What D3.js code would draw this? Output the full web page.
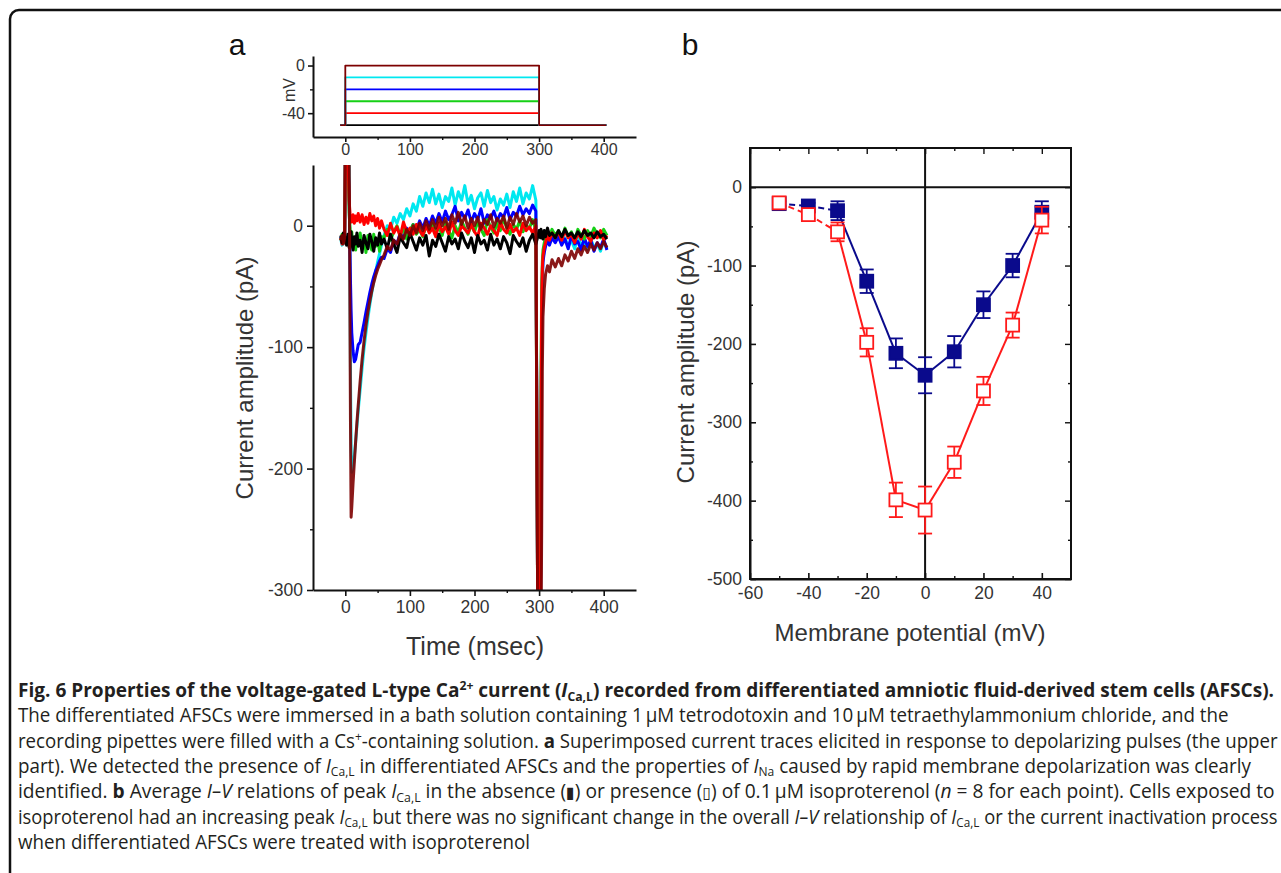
<!DOCTYPE html>
<meta charset="utf-8">
<style>
body { margin: 0; background: #fff; }
svg { font-family: "Liberation Sans", Arial, sans-serif; }
.cap { font-family: "Open Sans", sans-serif; font-size: 19.5px; fill: #231f20; }
</style>
<script src="https://d3js.org/d3.v7.min.js"></script>
<svg width="1281" height="873"></svg>
<script>
// ---- panel a: current traces (pA), sampled at timeMs ----
var timeMs = [-7, -5, -3, -1,
  0, 2, 4, 6, 8, 9, 10, 12, 14, 16, 18, 20,
  23, 26, 29, 32, 35, 38, 41, 44, 47, 50, 53, 56,
  60, 65, 70, 75, 80, 85, 90, 95, 100, 105, 110, 115, 120, 125, 130, 135, 140, 145, 150, 155,
  160, 165, 170, 175, 180, 185, 190, 195, 200, 205, 210, 215, 220, 225, 230, 235, 240, 245,
  250, 255, 260, 265, 270, 275, 280, 285, 290, 295,
  298, 300, 302, 303, 304, 305, 306, 308, 310, 313, 316, 320, 325,
  330, 335, 340, 345, 350, 355, 360, 365, 370, 375, 380, 385, 390, 395, 400, 405];

var traceBlack = [-8, -14, -6, -12,
  -10, -16, -7, -18, -11, -5, -14, -20, -9, -15, -6, -17,
  -12, -22, -8, -14, -19, -7, -13, -21, -10, -16, -6, -15,
  -11, -19, -7, -15, -22, -9, -14, -18, -6, -13, -20, -10, -16, -8, -25, -12, -17, -7, -14, -21,
  -9, -15, -11, -19, -6, -13, -18, -10, -22, -8, -15, -12, -20, -7, -16, -11, -19, -9,
  -14, -23, -8, -13, -17, -10, -21, -12, -7, -15,
  -9, -4, -10, -3, -8, -5, -11, -4, -9, -2, -8, -6, -10,
  -4, -9, -3, -8, -6, -10, -5, -9, -4, -8, -6, -10, -5, -9, -7, -11];

var traceRed = [-10, -15, -8, -13,
  60, 60, 60, 20, 5, 8, 3, 9, 2, 8, 4, 10,
  3, 9, 1, 7, 2, 10, 4, 8, 0, 6, -2, 4,
  -3, -8, 2, -6, -1, -9, 3, -5, -2, -7, 1, -4, -8, 0, -6, -2, -9, 2, -5, -1,
  -7, 3, -4, -8, 0, -3, -6, 1, -5, -9, 2, -2, -7, 0, -4, -8, 3, -3,
  -6, 1, -5, -2, -8, 2, -4, -1, -6, 0,
  -340, -340, -340, -150, -60, -35, -25, -18, -14, -8, -12, -6, -10,
  -5, -12, -4, -10, -7, -14, -6, -11, -3, -9, -13, -6, -10, -4, -12, -8];

var traceGreen = [-12, -7, -14, -9,
  60, 60, 60, 10, -8, -15, -5, -18, -10, -20, -8, -16,
  -6, -19, -10, -22, -8, -15, -20, -7, -17, -11, -21, -9,
  -10, -3, -12, -5, 0, -8, -2, -11, -4, 1, -7, -3, -9, 0, -5, 2, -6, -1,
  -8, 3, -4, -10, 0, -6, 4, -2, -7, 1, -5, 3, -3, -8, 5, -1, -6, 2,
  -4, 6, -2, -7, 1, -3, 4, -5, 0, -2, 5, -4,
  -340, -340, -340, -120, -50, -30, -20, -14, -10, -5, -9, -3, -8,
  -4, -10, -2, -9, -5, -12, -3, -8, -11, -4, -9, -2, -7, -10, -3, -8];

var traceBlue = [-9, -14, -7, -12,
  60, 60, 60, 20, -45, -70, -88, -103, -112, -110, -104, -98,
  -96, -88, -80, -71, -63, -55, -48, -42, -37, -33, -29, -26,
  -27, -19, -22, -12, -15, -6, -10, -2, -7, 1, -4, 4, -2, 6, 0, 8, 2, 10,
  3, 12, 5, 9, 16, 4, 11, 6, 13, 3, 10, 5, 14, 2, 9, 6, 12, 4,
  10, 7, 15, 5, 11, 8, 16, 9, 14, 10, 17, 12,
  -340, -340, -340, -200, -80, -45, -30, -22, -17, -12, -16, -10, -14,
  -9, -16, -11, -19, -8, -15, -13, -20, -10, -17, -12, -21, -14, -18, -11, -20];

var traceCyan = [-11, -16, -9, -14,
  60, 60, 60, 60, -120, -185, -203, -200, -190, -178, -165, -152,
  -135, -117, -101, -88, -76, -65, -55, -46, -38, -30, -23, -16,
  -8, 0, -3, 7, 2, 10, 5, 14, 8, 18, 12, 24, 16, 27, 19, 30, 18, 26,
  15, 24, 20, 31, 17, 28, 21, 33, 18, 25, 14, 23, 27, 16, 29, 19, 24, 13,
  22, 17, 26, 15, 28, 20, 31, 18, 27, 22, 33, 21,
  -340, -340, -340, -180, -70, -40, -28, -20, -14, -9, -13, -7, -12,
  -8, -14, -10, -17, -12, -19, -9, -16, -13, -20, -11, -18, -15, -21, -12, -19];

var traceMaroon = [-12, -8, -15, -10,
  60, 60, 60, 60, -160, -240, -232, -212, -195, -178, -162, -148,
  -128, -110, -95, -82, -71, -62, -54, -47, -41, -36, -32, -28,
  -24, -17, -20, -12, -15, -7, -11, -3, -8, 0, -6, 2, -4, 4, -3, 5, -2, 7,
  0, 6, -3, 9, 2, 11, 1, 8, -2, 6, 0, 7, -3, 5, 1, 9, -1, 6,
  2, 8, -2, 7, 1, 10, 3, 8, 0, 7, 2, 5,
  -340, -340, -340, -340, -250, -120, -75, -52, -40, -33, -38, -28, -34,
  -27, -33, -24, -29, -21, -27, -19, -24, -17, -22, -15, -20, -14, -19, -13, -18];

// ---- panel a inset: voltage protocol (mV) ----
var holdingMv = -50;
var stepMv = [-50, -40, -30, -20, -10, 0];
var stepTimes = [-8, 0, 300, 404];

// ---- panel b: I-V relation ----
var ivVoltage = [-50, -40, -30, -20, -10, 0, 10, 20, 30, 40];
var ivControl = [-21, -24, -30, -120, -212, -240, -210, -150, -100, -32];
var ivControlErr = [3, 4, 12, 15, 19, 23, 20, 17, 15, 14];
var ivIso = [-20, -35, -57, -198, -399, -412, -351, -260, -176, -42];
var ivIsoErr = [4, 5, 12, 18, 22, 30, 20, 18, 16, 17];

var colorByStep = {"-50": "#000000", "-40": "#ff0000", "-30": "#16d016", "-20": "#0000ff", "-10": "#00e8f0", "0": "#7d0000"};
var traces = [
  {mv: -10, values: traceCyan},
  {mv: -20, values: traceBlue},
  {mv: -30, values: traceGreen},
  {mv: -40, values: traceRed},
  {mv: -50, values: traceBlack},
  {mv: 0, values: traceMaroon}
];

var svg = d3.select("svg");
var ink = "#333";
var plain = d => String(d);   // hyphen-minus like the original figure

// frame around the figure (cropped at right and bottom)
svg.append("rect")
    .attr("x", 10).attr("y", 10).attr("width", 1300).attr("height", 900).attr("rx", 9)
    .attr("fill", "none").attr("stroke", "#111").attr("stroke-width", 2.5);

function styleAxis(g, size) {
  g.attr("font-family", null).attr("font-size", null);
  g.selectAll("text").attr("font-size", size || 17.5).attr("fill", ink);
  g.select(".domain").attr("stroke", "#111").attr("stroke-width", 2);
  g.selectAll(".tick line").attr("stroke", "#111").attr("stroke-width", 1.6);
}
function minorTicks(g) {
  g.select(".domain").remove();
  g.selectAll("text").remove();
  g.selectAll(".tick line").attr("stroke", "#111").attr("stroke-width", 1.4);
}

// ================= panel a =================
var xT = d3.scaleLinear().domain([-50, 450]).range([313, 636]);
var yI = d3.scaleLinear().domain([-300, 50]).range([590, 165]);
var yV = d3.scaleLinear().domain([-60, 8]).range([137, 56]);

svg.append("text").attr("x", 237).attr("y", 55).attr("text-anchor", "middle")
    .attr("font-size", 30).attr("fill", "#111").text("a");
svg.append("text").attr("x", 690).attr("y", 55).attr("text-anchor", "middle")
    .attr("font-size", 30).attr("fill", "#111").text("b");

// inset (voltage protocol)
var vLine = d3.line().x(d => xT(d[0])).y(d => yV(d[1]));
stepMv.forEach(function(mv) {
  var pts = [[stepTimes[0], holdingMv], [stepTimes[1], holdingMv], [stepTimes[1], mv],
             [stepTimes[2], mv], [stepTimes[2], holdingMv], [stepTimes[3], holdingMv]];
  svg.append("path").attr("d", vLine(pts)).attr("fill", "none")
      .attr("stroke", colorByStep[mv]).attr("stroke-width", 1.8).attr("stroke-linejoin", "round");
});
var gvx = svg.append("g").attr("transform", "translate(0," + yV.range()[0] + ")")
    .call(d3.axisBottom(xT).tickValues([0, 100, 200, 300, 400]).tickSize(5).tickSizeOuter(0).tickPadding(2));
styleAxis(gvx, 16);
var gvxm = svg.append("g").attr("transform", "translate(0," + yV.range()[0] + ")")
    .call(d3.axisBottom(xT).tickValues([50, 150, 250, 350]).tickSize(3));
minorTicks(gvxm);
var gvy = svg.append("g").attr("transform", "translate(313,0)")
    .call(d3.axisLeft(yV).tickValues([0, -40]).tickFormat(plain).tickSize(5).tickSizeOuter(0).tickPadding(3));
styleAxis(gvy, 16);
var gvym = svg.append("g").attr("transform", "translate(313,0)")
    .call(d3.axisLeft(yV).tickValues([-20]).tickSize(3));
minorTicks(gvym);
svg.append("text").attr("transform", "translate(295,90) rotate(-90)").attr("text-anchor", "middle")
    .attr("font-size", 16).attr("fill", ink).text("mV");

// main current traces
svg.append("clipPath").attr("id", "clipA").append("rect")
    .attr("x", 313).attr("y", 165).attr("width", 323).attr("height", 425);
var iLine = d3.line().x((d, i) => xT(timeMs[i])).y(d => yI(d));
var gTr = svg.append("g").attr("clip-path", "url(#clipA)");
traces.forEach(function(t) {
  gTr.append("path").attr("d", iLine(t.values.slice(0, timeMs.length)))
      .attr("fill", "none").attr("stroke", colorByStep[t.mv])
      .attr("stroke-width", 3).attr("stroke-linejoin", "round")
      .attr("stroke-opacity", t.mv === 0 ? 0.9 : 1);
});

var gax = svg.append("g").attr("transform", "translate(0,590)")
    .call(d3.axisBottom(xT).tickValues([0, 100, 200, 300, 400]).tickSize(6).tickSizeOuter(0).tickPadding(5));
styleAxis(gax);
var gaxm = svg.append("g").attr("transform", "translate(0,590)")
    .call(d3.axisBottom(xT).tickValues([50, 150, 250, 350]).tickSize(3));
minorTicks(gaxm);
var gay = svg.append("g").attr("transform", "translate(313,0)")
    .call(d3.axisLeft(yI).tickValues([-300, -200, -100, 0]).tickFormat(plain).tickSize(6).tickSizeOuter(0).tickPadding(4));
styleAxis(gay);
var gaym = svg.append("g").attr("transform", "translate(313,0)")
    .call(d3.axisLeft(yI).tickValues([-250, -150, -50]).tickSize(3));
minorTicks(gaym);

svg.append("text").attr("x", 475).attr("y", 655).attr("text-anchor", "middle")
    .attr("font-size", 25).attr("fill", ink).text("Time (msec)");
svg.append("text").attr("transform", "translate(253,378) rotate(-90)").attr("text-anchor", "middle")
    .attr("font-size", 24).attr("fill", ink).text("Current amplitude (pA)");

// ================= panel b =================
var xV = d3.scaleLinear().domain([-60, 50]).range([750, 1071]);
var yA = d3.scaleLinear().domain([-500, 50]).range([579, 148]);

svg.append("line").attr("x1", xV(-60)).attr("x2", xV(50)).attr("y1", yA(0)).attr("y2", yA(0))
    .attr("stroke", "#111").attr("stroke-width", 2);
svg.append("line").attr("x1", xV(0)).attr("x2", xV(0)).attr("y1", yA(50)).attr("y2", yA(-500))
    .attr("stroke", "#111").attr("stroke-width", 2);

var xMaj = [-60, -40, -20, 0, 20, 40], xMin = [-50, -30, -10, 10, 30];
var yMaj = [-500, -400, -300, -200, -100, 0], yMin = [-450, -350, -250, -150, -50];
var gbx = svg.append("g").attr("transform", "translate(0,579)")
    .call(d3.axisBottom(xV).tickValues(xMaj).tickFormat(plain).tickSize(-6).tickSizeOuter(0).tickPadding(8));
styleAxis(gbx);
var gbx2 = svg.append("g").attr("transform", "translate(0,579)")
    .call(d3.axisBottom(xV).tickValues(xMin).tickSize(-3));
minorTicks(gbx2);
var gbt = svg.append("g").attr("transform", "translate(0,148)")
    .call(d3.axisTop(xV).tickValues(xMaj).tickSize(-6).tickFormat(""));
minorTicks(gbt);
var gbt2 = svg.append("g").attr("transform", "translate(0,148)")
    .call(d3.axisTop(xV).tickValues(xMin).tickSize(-3));
minorTicks(gbt2);
var gby = svg.append("g").attr("transform", "translate(750,0)")
    .call(d3.axisLeft(yA).tickValues(yMaj).tickFormat(plain).tickSize(-6).tickSizeOuter(0).tickPadding(8));
styleAxis(gby);
var gby2 = svg.append("g").attr("transform", "translate(750,0)")
    .call(d3.axisLeft(yA).tickValues(yMin).tickSize(-3));
minorTicks(gby2);
var gbr = svg.append("g").attr("transform", "translate(1071,0)")
    .call(d3.axisRight(yA).tickValues(yMaj).tickSize(-6).tickFormat(""));
minorTicks(gbr);
var gbr2 = svg.append("g").attr("transform", "translate(1071,0)")
    .call(d3.axisRight(yA).tickValues(yMin).tickSize(-3));
minorTicks(gbr2);
svg.append("rect").attr("x", 750).attr("y", 148).attr("width", 321).attr("height", 431)
    .attr("fill", "none").attr("stroke", "#111").attr("stroke-width", 2);

function drawSeries(vals, errs, color, filled) {
  var g = svg.append("g");
  // connecting segments, the first two dashed
  for (var i = 0; i < ivVoltage.length - 1; i++) {
    g.append("line")
        .attr("x1", xV(ivVoltage[i])).attr("y1", yA(vals[i]))
        .attr("x2", xV(ivVoltage[i + 1])).attr("y2", yA(vals[i + 1]))
        .attr("stroke", color).attr("stroke-width", 2)
        .attr("stroke-dasharray", ivVoltage[i + 1] <= -30 ? "6,4" : null);
  }
  var pts = ivVoltage.map((v, i) => ({v: v, a: vals[i], e: errs[i]}));
  var eb = g.selectAll(".eb").data(pts).enter().append("g").attr("stroke", color).attr("stroke-width", 1.8);
  eb.append("line").attr("x1", d => xV(d.v)).attr("x2", d => xV(d.v))
      .attr("y1", d => yA(d.a - d.e)).attr("y2", d => yA(d.a + d.e));
  eb.append("line").attr("x1", d => xV(d.v) - 7).attr("x2", d => xV(d.v) + 7)
      .attr("y1", d => yA(d.a - d.e)).attr("y2", d => yA(d.a - d.e));
  eb.append("line").attr("x1", d => xV(d.v) - 7).attr("x2", d => xV(d.v) + 7)
      .attr("y1", d => yA(d.a + d.e)).attr("y2", d => yA(d.a + d.e));
  g.selectAll(".mk").data(pts).enter().append("rect")
      .attr("x", d => xV(d.v) - 6.5).attr("y", d => yA(d.a) - 6.5)
      .attr("width", 13).attr("height", 13)
      .attr("fill", filled ? color : "#fff").attr("stroke", color).attr("stroke-width", 1.8);
}
drawSeries(ivControl, ivControlErr, "#0a0a8c", true);
drawSeries(ivIso, ivIsoErr, "#ff1a1a", false);

svg.append("text").attr("x", 910).attr("y", 641).attr("text-anchor", "middle")
    .attr("font-size", 24).attr("fill", ink).text("Membrane potential (mV)");
svg.append("text").attr("transform", "translate(694,362) rotate(-90)").attr("text-anchor", "middle")
    .attr("font-size", 24).attr("fill", ink).text("Current amplitude (pA)");

// ================= caption =================
var ICaL = [["I", "i"], ["Ca,L", "sub"]];
var captionLines = [
  [["Fig. 6 Properties of the voltage-gated L-type Ca"], ["2+", "sup"], [" current ("]].concat(ICaL,
    [[") recorded from differentiated amniotic fluid-derived stem cells (AFSCs)."]]),
  [["The differentiated AFSCs were immersed in a bath solution containing 1\u2009\u00b5M tetrodotoxin and 10\u2009\u00b5M tetraethylammonium chloride, and the"]],
  [["recording pipettes were filled with a Cs"], ["+", "sup"], ["-containing solution. "], ["a", "b"],
    [" Superimposed current traces elicited in response to depolarizing pulses (the upper"]],
  [["part). We detected the presence of "]].concat(ICaL,
    [[" in differentiated AFSCs and the properties of "], ["I", "i"], ["Na", "sub"],
     [" caused by rapid membrane depolarization was clearly"]]),
  [["identified. "], ["b", "b"], [" Average "], ["I\u2013V", "i"], [" relations of peak "]].concat(ICaL,
    [[" in the absence ("], ["\u25ae", "sym"], [") or presence ("], ["\u25af", "sym"],
     [") of 0.1\u2009\u00b5M isoproterenol ("], ["n", "i"], [" = 8 for each point). Cells exposed to"]]),
  [["isoproterenol had an increasing peak "]].concat(ICaL,
    [[" but there was no significant change in the overall "], ["I\u2013V", "i"], [" relationship of "]],
    ICaL, [[" or the current inactivation process"]]),
  [["when differentiated AFSCs were treated with isoproterenol"]]
];
var capLeft = 18;
var capRight = [1275, 1229, 1278, 1252, 1276, 1278, 530];

captionLines.forEach(function(parts, li) {
  var t = svg.append("text").attr("class", "cap")
      .attr("font-weight", li === 0 ? "bold" : null)
      .attr("fill", li === 0 ? "#111" : null);
  var shift = 0;
  parts.forEach(function(p) {
    var kind = p[1] || "";
    var target = kind === "sub" ? 3.5 : kind === "sup" ? -7 : 0;
    var ts = t.append("tspan").text(p[0]).attr("dy", target - shift);
    shift = target;
    if (kind === "i") ts.attr("font-style", "italic");
    if (kind === "b") ts.attr("font-weight", "bold");
    if (kind === "sub" || kind === "sup") ts.attr("font-size", 12.5);
    if (kind === "sym") ts.attr("font-family", "DejaVu Sans").attr("font-size", 16);
  });
  var sx = (capRight[li] - capLeft) / t.node().getComputedTextLength();
  t.attr("transform", "translate(" + capLeft + "," + (697 + li * 25.3) + ") scale(" + sx + ",1)");
});
</script>
